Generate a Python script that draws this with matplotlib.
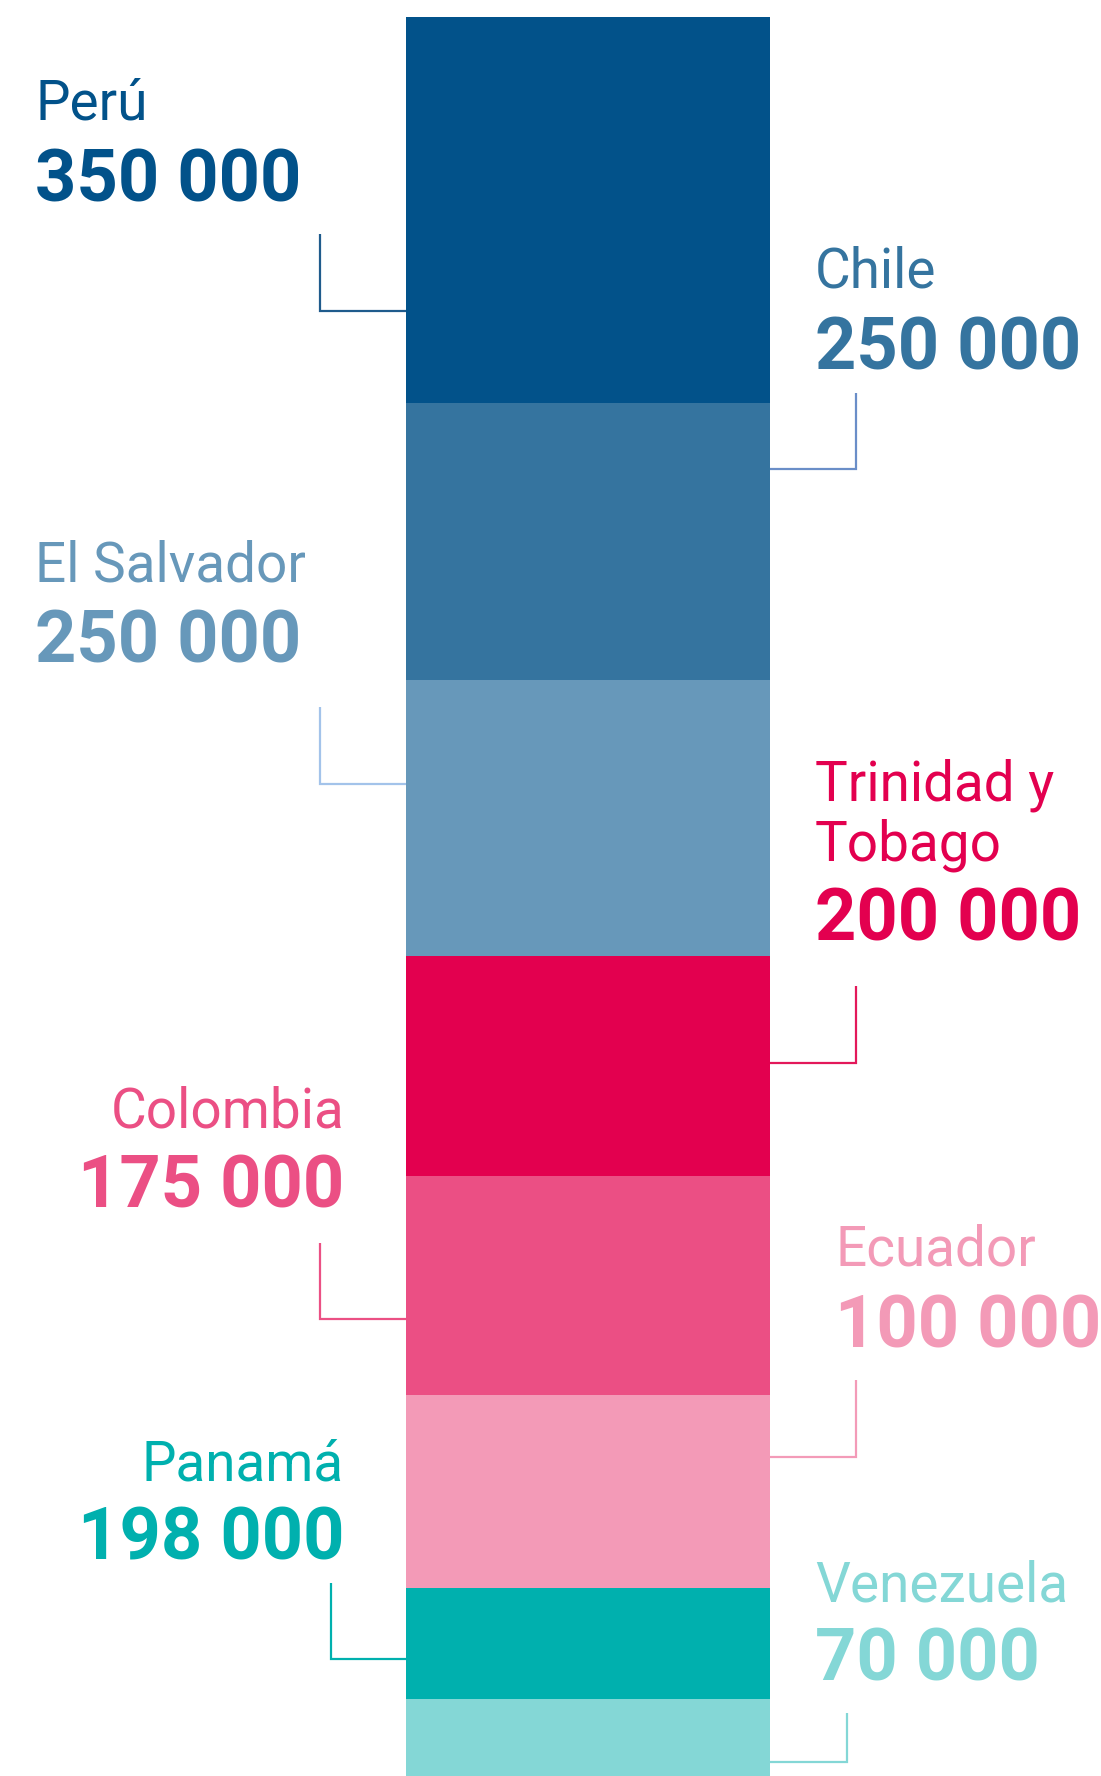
import numpy as np
import matplotlib
matplotlib.use("Agg")
import matplotlib.pyplot as plt
from matplotlib import font_manager

##### DATA #####
# segments of the column, top to bottom (heights)
segment_values = [350000, 250000, 250000, 200000, 198000, 175000, 100000, 70000]
segment_colors = ['#02528a', '#35749f', '#6798ba', '#e3004f',
                  '#eb4f84', '#f39ab7', '#00b0ae', '#84d7d6']

# labels as printed next to the column
countries = ['Perú', 'Chile', 'El Salvador', 'Trinidad y\nTobago',
             'Colombia', 'Ecuador', 'Panamá', 'Venezuela']
label_values = [350000, 250000, 250000, 200000, 175000, 100000, 198000, 70000]
leader_colors = ['#1f5b8c', '#6a8ec8', '#a3c3ea', '#e3185a',
                 '#eb5084', '#f39bb8', '#00b0ae', '#84d7d6']

##### LAYOUT (pixels) #####
W, H = 1101, 1776
bar_left, bar_right, bar_top = 406, 770, 17
# side, text x, name baseline, number baseline, leader x, leader top, leader bottom
layout = [
    ('L', 35, 119, 201, 320, 234, 311),
    ('R', 815, 288, 369, 856, 393, 469),
    ('L', 35, 581, 662, 320, 707, 784),
    ('R', 815, 860, 940, 856, 986, 1063),
    ('L', 344, 1127, 1207, 320, 1243, 1319),
    ('R', 835, 1265, 1347, 856, 1380, 1457),
    ('L', 344, 1480, 1559, 331, 1583, 1659),
    ('R', 815, 1601, 1680, 847, 1713, 1762),
]


def pick_font(names):
    for n in names:
        try:
            font_manager.findfont(font_manager.FontProperties(family=n),
                                  fallback_to_default=False)
            return n
        except Exception:
            pass
    return 'DejaVu Sans'


name_font = pick_font(['Liberation Sans Narrow', 'Roboto'])
num_font = pick_font(['Roboto', 'Open Sans'])
name_size = 43 if name_font == 'Liberation Sans Narrow' else 39.5


def fmt(v):
    return f"{v:,}".replace(',', ' ')


##### PLOT #####
fig = plt.figure(figsize=(W / 100, H / 100), dpi=100, facecolor='white')

# column in value units
ax = fig.add_axes([0, 0, 1, 1])
total = sum(segment_values)
px_per_unit = (H - bar_top) / total
ax.set_xlim(0, W)
ax.set_ylim(total, -bar_top / px_per_unit)
bottoms = np.concatenate([[0], np.cumsum(segment_values)[:-1]])
ax.bar((bar_left + bar_right) / 2, segment_values, bottom=bottoms,
       width=bar_right - bar_left, color=segment_colors, linewidth=0)
ax.axis('off')

# overlay in pixel units for labels and leader lines
ov = fig.add_axes([0, 0, 1, 1], facecolor='none')
ov.set_xlim(0, W)
ov.set_ylim(H, 0)
ov.axis('off')

for i, (side, tx, y_name, y_num, lx, ly0, ly1) in enumerate(layout):
    c = segment_colors[i]
    ha = 'right' if (side == 'L' and tx > 200) else 'left'
    ov.text(tx, y_name, countries[i], ha=ha, va='baseline', color=c,
            fontsize=name_size, family=name_font, fontweight='normal',
            linespacing=1.14)
    ov.text(tx, y_num, fmt(label_values[i]), ha=ha, va='baseline', color=c,
            fontsize=52, family=num_font, fontweight='bold')
    edge = bar_left if side == 'L' else bar_right
    ov.plot([lx, lx, edge], [ly0, ly1, ly1], color=leader_colors[i],
            lw=1.6, solid_joinstyle='miter', solid_capstyle='butt')

plt.savefig('out.png', dpi=100, facecolor='white')
